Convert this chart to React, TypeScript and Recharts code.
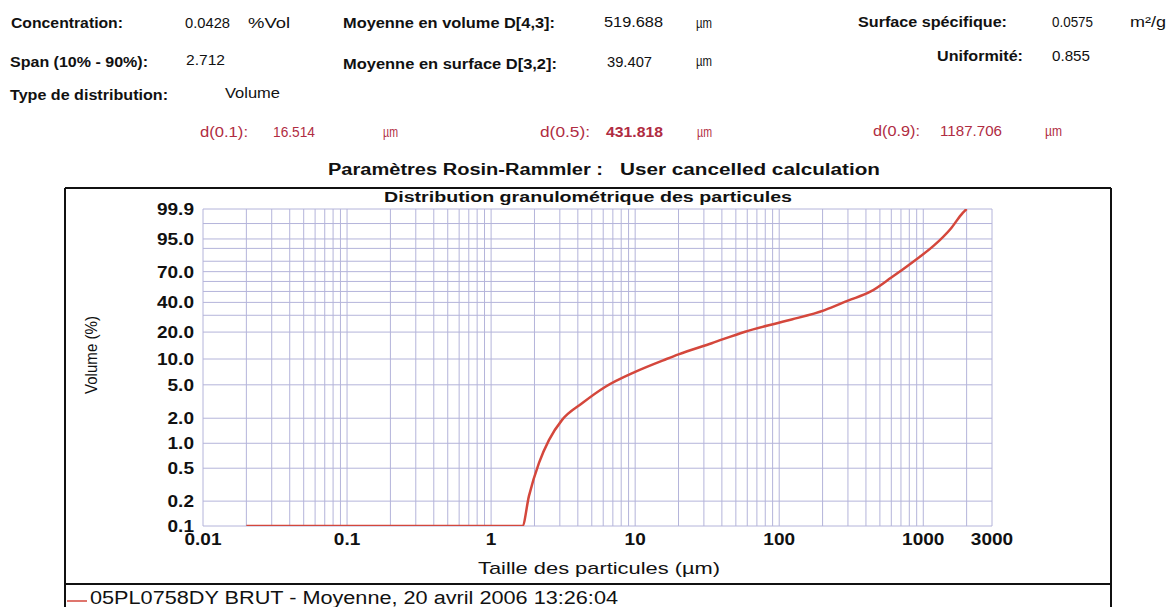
import React from "react";
import { LineChart, Line, XAxis, YAxis, CartesianGrid } from "recharts";

// ---- Data (cumulative volume % vs particle size µm) ----
const particleSizes = [
  0.02, 0.05, 0.1, 0.5, 1, 1.65, 1.83, 2.15, 2.52, 3.11, 4.28, 6.22, 10, 16.5, 20, 34, 58,
  98, 122, 207, 300, 432, 600, 870, 1188, 1556, 1880, 2000,
];
const cumulativeVolume = [
  0, 0, 0, 0, 0, 0, 0.23, 0.58, 1.09, 1.91, 3.02, 4.75, 7.1, 10, 11.3, 15.1, 20.2, 25.0,
  27.2, 33.8, 41.5, 50, 64.0, 80.5, 91.8, 98.2, 99.8, 100,
];

const xTickValues = [
  0.01, 0.02, 0.03, 0.04, 0.05, 0.06, 0.07, 0.08, 0.09, 0.1, 0.2, 0.3, 0.4, 0.5, 0.6, 0.7,
  0.8, 0.9, 1, 2, 3, 4, 5, 6, 7, 8, 9, 10, 20, 30, 40, 50, 60, 70, 80, 90, 100, 200, 300,
  400, 500, 600, 700, 800, 900, 1000, 2000, 3000,
];
const xLabelledValues = [0.01, 0.1, 1, 10, 100, 1000, 3000];
const xLabelTexts = ["0.01", "0.1", "1", "10", "100", "1000", "3000"];

const yGridPercents = [0.1, 0.2, 0.5, 1, 2, 5, 10, 20, 30, 40, 50, 60, 70, 80, 90, 95, 99, 99.9];
const yLabelledPercents = [0.1, 0.2, 0.5, 1, 2, 5, 10, 20, 40, 70, 95, 99.9];
const yLabelTexts = ["0.1", "0.2", "0.5", "1.0", "2.0", "5.0", "10.0", "20.0", "40.0", "70.0", "95.0", "99.9"];

const Y_MIN = 0.1;
const Y_MAX = 99.9;
// Rosin-Rammler probability transform
const rr = (p: number) => {
  const c = Math.min(Math.max(p, Y_MIN), Y_MAX);
  return Math.log(-Math.log(1 - c / 100));
};

const chartData = particleSizes.map((s, i) => ({ size: s, v: rr(cumulativeVolume[i]) }));
const yTickValues = yGridPercents.map(rr);

const FONT = "'Liberation Sans', Arial, sans-serif";
const RED = "#b02c42";

const XTick = (props: any) => {
  const { x, y, payload } = props;
  const idx = xLabelledValues.findIndex((v) => Math.abs(Math.log10(v) - Math.log10(payload.value)) < 1e-6);
  if (idx < 0) return null;
  return (
    <text
      transform={`translate(${x},${y + 19}) scale(1.12,1)`}
      textAnchor="middle"
      fontFamily={FONT}
      fontWeight="bold"
      fontSize={17}
      fill="#111"
    >
      {xLabelTexts[idx]}
    </text>
  );
};

const YTick = (props: any) => {
  const { x, y, payload } = props;
  const idx = yLabelledPercents.findIndex((p) => Math.abs(rr(p) - payload.value) < 1e-6);
  if (idx < 0) return null;
  return (
    <text
      transform={`translate(${x - 9},${y + 6}) scale(1.12,1)`}
      textAnchor="end"
      fontFamily={FONT}
      fontWeight="bold"
      fontSize={17}
      fill="#111"
    >
      {yLabelTexts[idx]}
    </text>
  );
};

type HeaderItem = { t: string; x: number; y: number; w: number; b?: boolean; s?: number; c?: string };
const headerItems: HeaderItem[] = [
  { t: "Concentration:", x: 11, y: 28, w: 112, b: true },
  { t: "0.0428", x: 185, y: 28, w: 45 },
  { t: "%Vol", x: 248, y: 28, w: 42 },
  { t: "Moyenne en volume D[4,3]:", x: 343, y: 28, w: 212, b: true },
  { t: "519.688", x: 604, y: 27, w: 59 },
  { t: "µm", x: 696, y: 28, w: 16 },
  { t: "Surface spécifique:", x: 858, y: 27, w: 149, b: true },
  { t: "0.0575", x: 1052, y: 27, w: 41 },
  { t: "m²/g", x: 1130, y: 27, w: 36 },
  { t: "Span (10% - 90%):", x: 10, y: 67, w: 138, b: true },
  { t: "2.712", x: 186, y: 65, w: 39 },
  { t: "Moyenne en surface D[3,2]:", x: 343, y: 69, w: 214, b: true },
  { t: "39.407", x: 607, y: 67, w: 45 },
  { t: "µm", x: 696, y: 66, w: 16 },
  { t: "Uniformité:", x: 937, y: 61, w: 86, b: true },
  { t: "0.855", x: 1052, y: 61, w: 38 },
  { t: "Type de distribution:", x: 10, y: 100, w: 158, b: true },
  { t: "Volume", x: 225, y: 98, w: 55 },
  { t: "d(0.1):", x: 200, y: 137, w: 48, c: RED },
  { t: "16.514", x: 273, y: 137, w: 42, c: RED },
  { t: "µm", x: 383, y: 137, w: 15, c: RED },
  { t: "d(0.5):", x: 540, y: 137, w: 50, c: RED },
  { t: "431.818", x: 606, y: 137, w: 57, b: true, c: RED },
  { t: "µm", x: 697, y: 137, w: 15, c: RED },
  { t: "d(0.9):", x: 873, y: 136, w: 47, c: RED },
  { t: "1187.706", x: 940, y: 136, w: 62, c: RED },
  { t: "µm", x: 1045, y: 136, w: 17, c: RED },
  { t: "Paramètres Rosin-Rammler :", x: 328, y: 175, w: 275, b: true, s: 16 },
  { t: "User cancelled calculation", x: 620, y: 175, w: 260, b: true, s: 17 },
];

export default function App() {
  return (
    <div
      style={{
        position: "absolute",
        left: 0,
        top: 0,
        width: 1169,
        height: 607,
        background: "#fff",
        overflow: "hidden",
        fontFamily: FONT,
      }}
    >
      <div style={{ position: "absolute", left: 0, top: 0 }}>
        <LineChart
          width={1169}
          height={607}
          data={chartData}
          margin={{ top: 209, right: 177, bottom: 51, left: 143 }}
        >
          <CartesianGrid stroke="#b4b4da" strokeWidth={1} />
          <XAxis
            dataKey="size"
            type="number"
            scale="log"
            domain={[0.01, 3000]}
            allowDataOverflow
            ticks={xTickValues}
            interval={0}
            tickSize={0}
            tickMargin={0}
            axisLine={false}
            tickLine={false}
            height={30}
            tick={<XTick />}
          />
          <YAxis
            type="number"
            domain={[rr(Y_MIN), rr(Y_MAX)]}
            allowDataOverflow
            ticks={yTickValues}
            interval={0}
            tickSize={0}
            tickMargin={0}
            axisLine={false}
            tickLine={false}
            width={60}
            tick={<YTick />}
          />
          <Line
            type="monotone"
            dataKey="v"
            stroke="#d4473c"
            strokeWidth={2.5}
            dot={false}
            isAnimationActive={false}
          />
        </LineChart>
      </div>
      <svg
        width={1169}
        height={607}
        style={{ position: "absolute", left: 0, top: 0, pointerEvents: "none" }}
      >
        {headerItems.map((h, i) => (
          <text
            key={i}
            x={h.x}
            y={h.y}
            textLength={h.w}
            lengthAdjust="spacingAndGlyphs"
            fontFamily={FONT}
            fontSize={h.s || 14}
            fontWeight={h.b ? "bold" : "normal"}
            fill={h.c || "#111"}
          >
            {h.t}
          </text>
        ))}
        {/* frame */}
        <line x1={65} y1={188} x2={1111} y2={188} stroke="#111" strokeWidth={2} />
        <line x1={65} y1={188} x2={65} y2={607} stroke="#111" strokeWidth={2} />
        <line x1={1111} y1={188} x2={1111} y2={607} stroke="#111" strokeWidth={2} />
        <line x1={65} y1={584} x2={1111} y2={584} stroke="#111" strokeWidth={2} />
        {/* chart title */}
        <text
          x={384}
          y={202}
          textLength={408}
          lengthAdjust="spacingAndGlyphs"
          fontFamily={FONT}
          fontSize={14}
          fontWeight="bold"
          fill="#111"
        >
          Distribution granulométrique des particules
        </text>
        {/* axis titles */}
        <text
          transform="translate(97,355) rotate(-90)"
          textAnchor="middle"
          fontFamily={FONT}
          fontSize={17}
          fill="#111"
          textLength={78}
          lengthAdjust="spacingAndGlyphs"
        >
          Volume (%)
        </text>
        <text
          x={478}
          y={574}
          textLength={242}
          lengthAdjust="spacingAndGlyphs"
          fontFamily={FONT}
          fontSize={17}
          fill="#111"
        >
          Taille des particules (µm)
        </text>
        {/* legend */}
        <line x1={67} y1={601} x2={87} y2={601} stroke="#d4473c" strokeWidth={1.5} />
        <text
          x={90}
          y={604}
          textLength={528}
          lengthAdjust="spacingAndGlyphs"
          fontFamily={FONT}
          fontSize={18}
          fill="#111"
        >
          05PL0758DY BRUT - Moyenne, 20 avril 2006 13:26:04
        </text>
      </svg>
    </div>
  );
}
